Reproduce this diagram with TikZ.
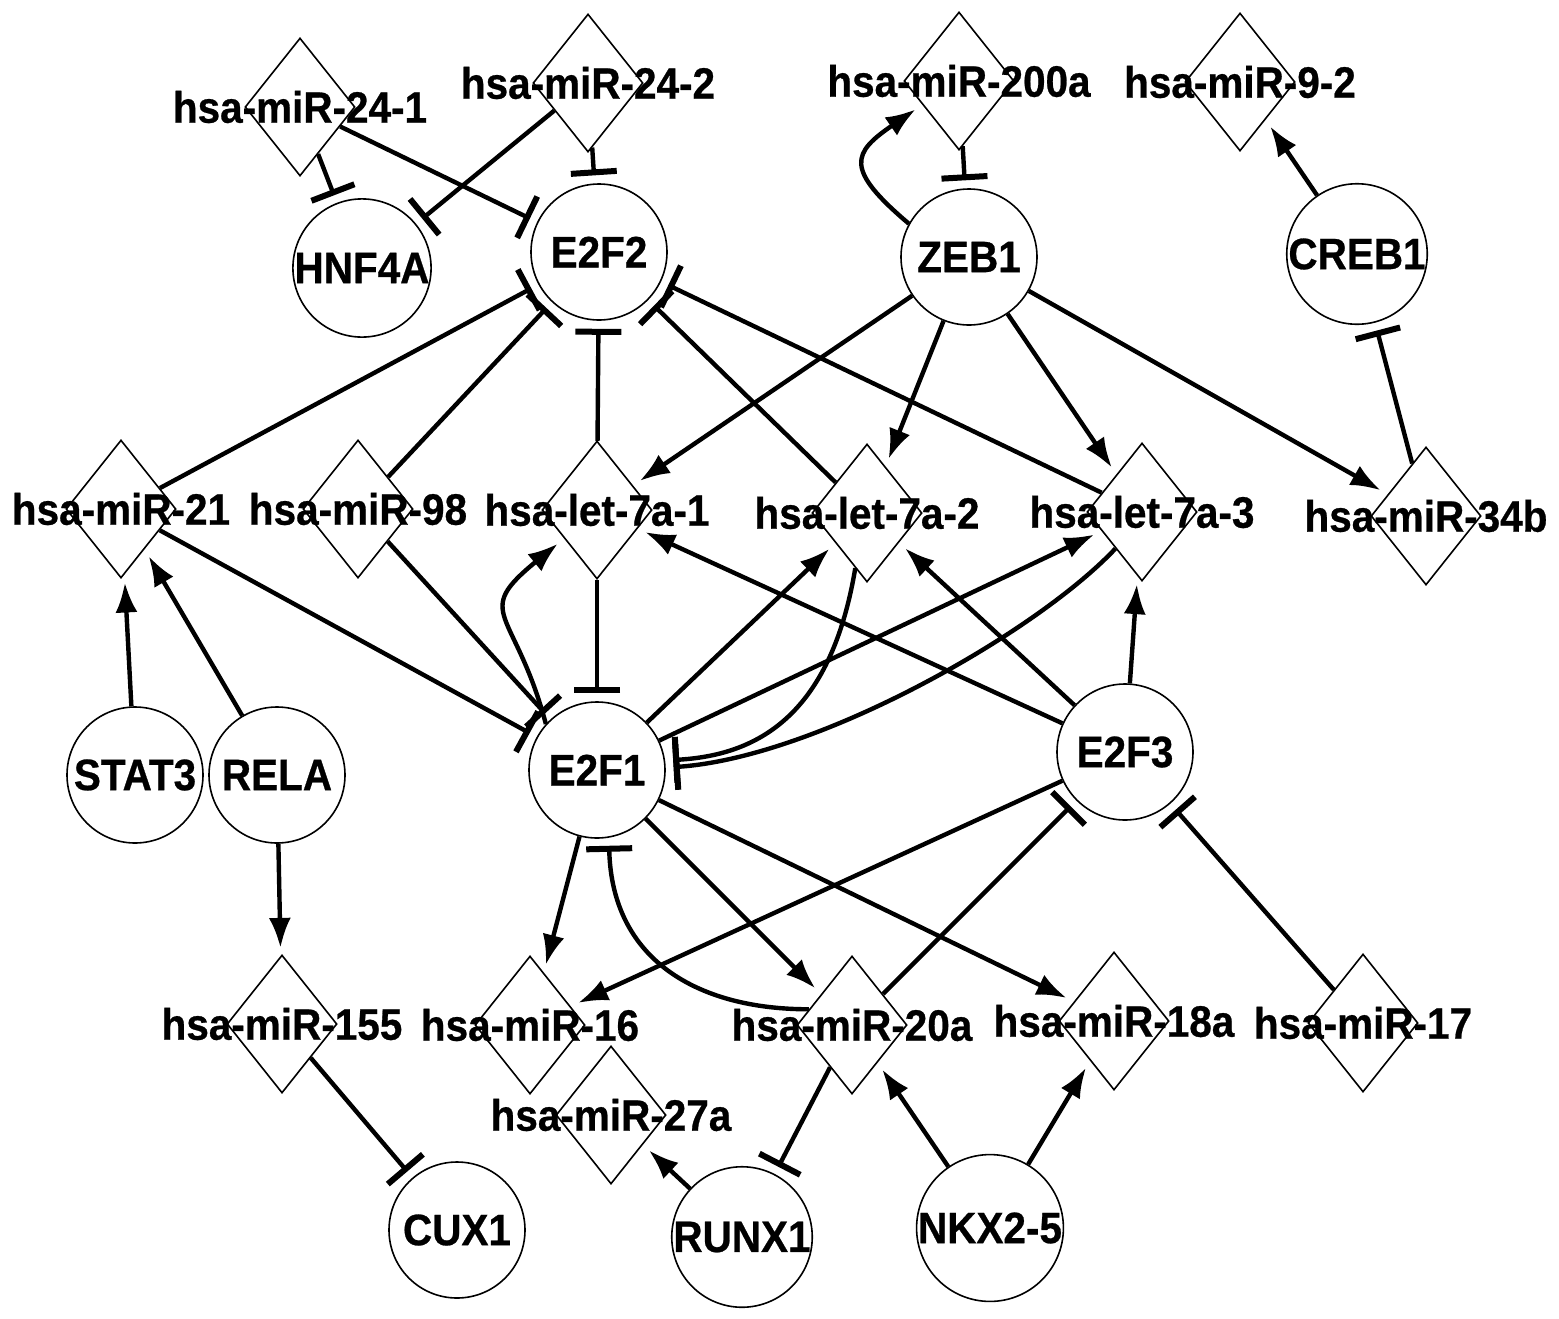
\documentclass[tikz,border=0pt]{standalone}
\usepackage{fontspec}
\setmainfont{Liberation Sans}[FakeStretch=0.92,FakeBold=0.6]
\usetikzlibrary{shapes.geometric,arrows.meta}
\begin{document}
\begin{tikzpicture}[x=0.5pt,y=0.5pt,
  gene/.style={circle,draw,line width=0.8pt,minimum size=68pt,inner sep=0pt,font=\fontsize{22}{26}\selectfont\bfseries},
  mir/.style={diamond,draw,line width=0.8pt,minimum width=55pt,minimum height=69pt,inner sep=0pt},
  lbl/.style={font=\fontsize{22}{26}\selectfont\bfseries,inner sep=0pt},
  act/.style={line width=2.2pt,-{Latex[length=15pt,width=11pt]},shorten >=4pt},
  inh/.style={line width=2.2pt,-{Bar[width=23pt,line width=3pt]},shorten >=4pt}]
\fill[white] (0,0) rectangle (1559,-1318);
\useasboundingbox (0,0) rectangle (1559,-1318);
% genes
\node[gene] (hnf4a) at (362,-268) {HNF4A};
\node[gene] (e2f2) at (599,-252) {E2F2};
\node[gene] (zeb1) at (969,-257) {ZEB1};
\node[gene] (creb1) at (1357,-254) {CREB1};
\node[gene] (e2f1) at (597,-770) {E2F1};
\node[gene] (e2f3) at (1125,-752) {E2F3};
\node[gene] (stat3) at (135,-775) {STAT3};
\node[gene] (rela) at (277,-775) {RELA};
\node[gene] (cux1) at (457,-1230) {CUX1};
\node[gene] (runx1) at (742,-1237) {RUNX1};
\node[gene] (nkx) at (990,-1228) {NKX2-5};
% miRNAs
\node[mir] (m241) at (300,-107) {};
\node[mir] (m242) at (588,-83) {};
\node[mir] (m200a) at (959,-81) {};
\node[mir] (m92) at (1240,-82) {};
\node[mir] (m21) at (121,-509) {};
\node[mir] (m98) at (358,-509) {};
\node[mir] (l1) at (597,-510) {};
\node[mir] (l2) at (867,-513) {};
\node[mir] (l3) at (1142,-512) {};
\node[mir] (m34b) at (1426,-516) {};
\node[mir] (m155) at (282,-1024) {};
\node[mir] (m16) at (530,-1025) {};
\node[mir] (m27a) at (611,-1115) {};
\node[mir] (m20a) at (852,-1025) {};
\node[mir] (m18a) at (1114,-1021) {};
\node[mir] (m17) at (1363,-1023) {};
% inhibitions
\draw[inh] (m241) -- (hnf4a);
\draw[inh] (m241) -- (e2f2);
\draw[inh] (m242) -- (hnf4a);
\draw[inh] (m242) -- (e2f2);
\draw[inh] (m200a) -- (zeb1);
\draw[inh] (m34b) -- (creb1);
\draw[inh] (m21) -- (e2f2);
\draw[inh] (m98) -- (e2f2);
\draw[inh] (l1) -- (e2f2);
\draw[inh] (l2) -- (e2f2);
\draw[inh] (l3) -- (e2f2);
\draw[inh] (m21) -- (e2f1);
\draw[inh] (m98) -- (e2f1);
\draw[inh] (l1) -- (e2f1);
\draw[inh] (m20a) -- (e2f3);
\draw[inh] (m17) -- (e2f3);
\draw[inh] (m155) -- (cux1);
\draw[inh] (m20a) -- (runx1);
\draw[inh] (l2.258) .. controls +(-25,-150) and +(90,5) .. (e2f1.8);
\draw[inh] (l3.234) .. controls +(-80,-85) and +(150,10) .. (e2f1.2);
\draw[inh] (m20a.160) .. controls +(-110,0) and +(3,-123) .. (e2f1.280);
% activations
\draw[act] (zeb1) -- (l1);
\draw[act] (zeb1) -- (l2);
\draw[act] (zeb1) -- (l3);
\draw[act] (zeb1) -- (m34b);
\draw[act] (creb1) -- (m92);
\draw[act] (e2f1) -- (l2);
\draw[act] (e2f1) -- (l3);
\draw[act] (e2f3) -- (l1);
\draw[act] (e2f3) -- (l2);
\draw[act] (e2f3) -- (l3);
\draw[act] (e2f3) -- (m16);
\draw[act] (e2f1) -- (m16);
\draw[act] (e2f1) -- (m20a);
\draw[act] (e2f1) -- (m18a);
\draw[act] (rela) -- (m155);
\draw[act] (stat3) -- (m21);
\draw[act] (rela) -- (m21);
\draw[act] (runx1) -- (m27a);
\draw[act] (nkx) -- (m20a);
\draw[act] (nkx) -- (m18a);
\draw[act] (zeb1.151) .. controls +(-65,55) and +(-70,-48) .. (m200a.213);
\draw[act] (e2f1.138) .. controls +(-31,116) and +(-93,-76) .. (l1.221);
% labels
\node[lbl] (m241t) at (m241) {hsa-miR-24-1};
\node[lbl] (m242t) at (m242) {hsa-miR-24-2};
\node[lbl] (m200at) at (m200a) {hsa-miR-200a};
\node[lbl] (m92t) at (m92) {hsa-miR-9-2};
\node[lbl] (m21t) at (m21) {hsa-miR-21};
\node[lbl] (m98t) at (m98) {hsa-miR-98};
\node[lbl] (l1t) at (l1) {hsa-let-7a-1};
\node[lbl] (l2t) at (l2) {hsa-let-7a-2};
\node[lbl] (l3t) at (l3) {hsa-let-7a-3};
\node[lbl] (m34bt) at (m34b) {hsa-miR-34b};
\node[lbl] (m155t) at (m155) {hsa-miR-155};
\node[lbl] (m16t) at (m16) {hsa-miR-16};
\node[lbl] (m27at) at (m27a) {hsa-miR-27a};
\node[lbl] (m20at) at (m20a) {hsa-miR-20a};
\node[lbl] (m18at) at (m18a) {hsa-miR-18a};
\node[lbl] (m17t) at (m17) {hsa-miR-17};
\end{tikzpicture}
\end{document}
